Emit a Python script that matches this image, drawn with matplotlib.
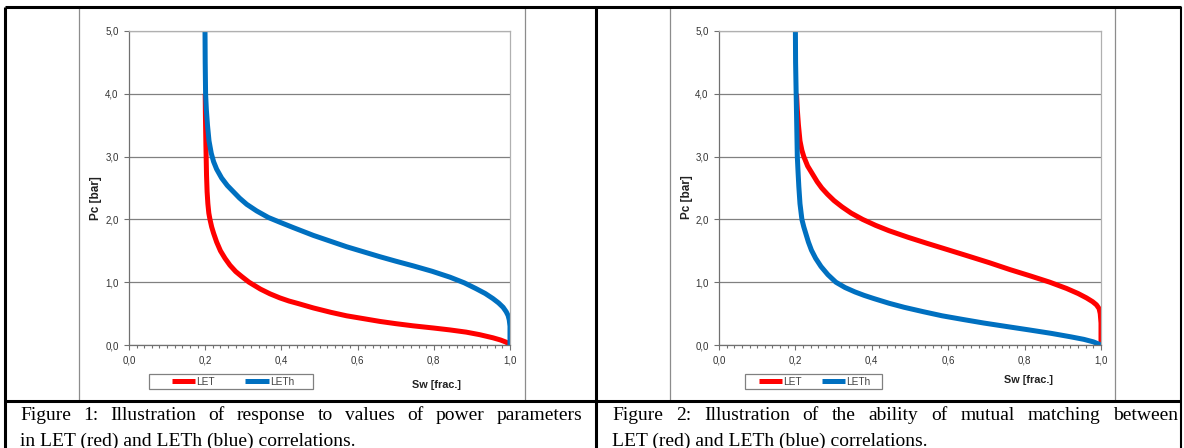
import matplotlib
matplotlib.use("Agg")
import matplotlib.pyplot as plt
from matplotlib.patches import Rectangle
from matplotlib.ticker import MultipleLocator, FuncFormatter

W, H = 1184, 448

# Figure 1: LET (red) / LETh (blue)
sw_let_1 = [0.200, 0.2005, 0.201, 0.2018, 0.2025, 0.2035, 0.205, 0.207, 0.2095, 0.2125, 0.217,
            0.222, 0.230, 0.240, 0.252, 0.265, 0.280, 0.296, 0.315, 0.345, 0.370, 0.396,
            0.420, 0.444, 0.484, 0.530, 0.571, 0.620, 0.659, 0.700, 0.746, 0.800, 0.8425,
            0.885, 0.920, 0.955, 0.975, 0.990, 1.000]
pc_let_1 = [4.00, 3.70, 3.50, 3.20, 3.00, 2.70, 2.44, 2.25, 2.10, 2.00, 1.88,
            1.78, 1.64, 1.50, 1.38, 1.27, 1.17, 1.09, 1.00, 0.89, 0.815, 0.75,
            0.70, 0.66, 0.59, 0.52, 0.465, 0.415, 0.375, 0.34, 0.305, 0.27, 0.24,
            0.205, 0.165, 0.115, 0.08, 0.045, 0.0]
sw_leth_1 = [0.1995, 0.200, 0.201, 0.203, 0.206, 0.210, 0.216, 0.222, 0.230, 0.243, 0.258,
             0.274, 0.290, 0.309, 0.335, 0.366, 0.396, 0.431, 0.484, 0.530, 0.571, 0.615,
             0.659, 0.700, 0.746, 0.795, 0.8425, 0.880, 0.910, 0.935, 0.955, 0.970, 0.982,
             0.990, 0.995, 0.998, 1.000, 1.000]
pc_leth_1 = [5.00, 4.50, 4.00, 3.75, 3.50, 3.25, 3.05, 2.92, 2.80, 2.66, 2.54,
             2.44, 2.34, 2.24, 2.135, 2.03, 1.955, 1.87, 1.745, 1.65, 1.565, 1.485,
             1.405, 1.335, 1.26, 1.175, 1.08, 0.99, 0.90, 0.82, 0.74, 0.67, 0.60,
             0.53, 0.47, 0.40, 0.30, 0.0]

# Figure 2
sw_let_2 = [0.203, 0.205, 0.208, 0.212, 0.217, 0.222, 0.232, 0.247, 0.257, 0.269, 0.284,
            0.301, 0.322, 0.346, 0.376, 0.410, 0.445, 0.495, 0.544, 0.600, 0.653, 0.708,
            0.762, 0.815, 0.866, 0.910, 0.940, 0.962, 0.978, 0.988, 0.995, 0.998, 1.000, 1.000]
pc_let_2 = [4.00, 3.75, 3.50, 3.25, 3.10, 3.00, 2.85, 2.70, 2.60, 2.50, 2.40,
            2.30, 2.20, 2.10, 2.00, 1.905, 1.82, 1.715, 1.62, 1.515, 1.415, 1.31,
            1.20, 1.10, 1.00, 0.90, 0.82, 0.75, 0.69, 0.64, 0.58, 0.50, 0.35, 0.0]
sw_leth_2 = [0.200, 0.2005, 0.202, 0.2035, 0.205, 0.207, 0.209, 0.212, 0.217, 0.222, 0.227,
             0.234, 0.242, 0.253, 0.267, 0.285, 0.306, 0.330, 0.356, 0.380, 0.405, 0.445,
             0.485, 0.535, 0.584, 0.640, 0.693, 0.750, 0.812, 0.870, 0.921, 0.955, 0.980, 1.000]
pc_leth_2 = [5.00, 4.50, 4.00, 3.50, 3.00, 2.75, 2.52, 2.25, 2.00, 1.88, 1.78,
             1.64, 1.51, 1.38, 1.25, 1.12, 1.00, 0.915, 0.845, 0.79, 0.74, 0.665,
             0.60, 0.53, 0.465, 0.405, 0.35, 0.297, 0.24, 0.185, 0.13, 0.09, 0.05, 0.0]

captions = [
    ("Figure 1: Illustration of response to values of power parameters",
     "in LET (red) and LETh (blue) correlations."),
    ("Figure 2: Illustration of the ability of mutual matching between",
     "LET (red) and LETh (blue) correlations."),
]

RED = "#ff0000"
BLUE = "#0070c0"
GRID = "#808080"


def box(x0, y0, x1, y1):
    # pixel box -> figure fraction
    return [x0 / W, 1 - y1 / H, (x1 - x0) / W, (y1 - y0) / H]


fig = plt.figure(figsize=(W / 100, H / 100), dpi=100)
bg = fig.add_axes([0, 0, 1, 1], zorder=-1)
bg.set_xlim(0, W)
bg.set_ylim(H, 0)
bg.axis("off")

# table frame
for xs, ys, lw in [((5, 1181), (7, 7), 2.2), ((5, 5), (7, 448), 2.2), ((596, 596), (7, 448), 2.2),
                   ((1181, 1181), (7, 448), 1.5), ((5, 1181), (401, 401), 2.2)]:
    bg.plot(xs, ys, color="black", lw=lw, solid_capstyle="butt")

# chart areas
bg.add_patch(Rectangle((78.5, 7), 446, 394, fill=False, ec="#8c8c8c", lw=0.9))
bg.add_patch(Rectangle((669.5, 7), 445, 394, fill=False, ec="#8c8c8c", lw=0.9))

panels = [
    dict(plot=(129, 31, 510, 345), let=(sw_let_1, pc_let_1), leth=(sw_leth_1, pc_leth_1),
         ylab=(96, 198), xlab=(436, 385), legbox=(149, 374, 313, 389), legc=(233, 381.5),
         colsp=3.0, cap=(20, 582)),
    dict(plot=(719, 31, 1101, 345), let=(sw_let_2, pc_let_2), leth=(sw_leth_2, pc_leth_2),
         ylab=(687, 197), xlab=(1028, 380), legbox=(744.5, 374, 882, 389), legc=(814.5, 381.5),
         colsp=2.0, cap=(612, 1178)),
]

comma = FuncFormatter(lambda v, p: f"{v:.1f}".replace(".", ","))
renderer = fig.canvas.get_renderer()

for i, p in enumerate(panels):
    ax = fig.add_axes(box(*p["plot"]))
    ax.plot(*p["let"], color=RED, lw=3.6, label="LET", solid_capstyle="butt", solid_joinstyle="round")
    ax.plot(*p["leth"], color=BLUE, lw=3.6, label="LETh", solid_capstyle="butt", solid_joinstyle="round")
    ax.set_xlim(0, 1)
    ax.set_ylim(0, 5)
    ax.xaxis.set_major_locator(MultipleLocator(0.2))
    ax.xaxis.set_minor_locator(MultipleLocator(0.02))
    ax.yaxis.set_major_locator(MultipleLocator(1))
    ax.xaxis.set_major_formatter(comma)
    ax.yaxis.set_major_formatter(comma)
    ax.grid(axis="y", color=GRID, lw=0.9)
    ax.set_axisbelow(True)
    for s in ("top", "right"):
        ax.spines[s].set_color("#b0b0b0")
        ax.spines[s].set_linewidth(0.9)
    for s in ("left", "bottom"):
        ax.spines[s].set_color("#707070")
        ax.spines[s].set_linewidth(0.9)
    ax.tick_params(which="both", direction="out", color="#707070", width=0.8,
                   labelsize=7, labelcolor="#333333")
    ax.tick_params(which="major", length=3.5, pad=4)
    ax.tick_params(which="minor", length=2.5)
    for lab in ax.get_xticklabels() + ax.get_yticklabels():
        lab.set_family("Liberation Sans")

    bg.text(*p["ylab"], "Pc [bar]", rotation=90, ha="center", va="center",
            fontsize=8.5, fontweight="bold", family="Liberation Sans", color="#222222")
    bg.text(*p["xlab"], "Sw [frac.]", ha="center", va="center",
            fontsize=7.8, fontweight="bold", family="Liberation Sans", color="#222222")

    # legend: frame drawn separately so its size matches the picture
    lx0, ly0, lx1, ly1 = p["legbox"]
    bg.add_patch(Rectangle((lx0, ly0), lx1 - lx0, ly1 - ly0, fill=False, ec="#808080", lw=0.9))
    cx, cy = p["legc"]
    leg = ax.legend(loc="center", bbox_to_anchor=(cx / W, 1 - cy / H), bbox_transform=fig.transFigure,
                    ncol=2, frameon=False, prop={"family": "Liberation Sans", "size": 7.3},
                    handlelength=2.3, handletextpad=0.1, columnspacing=p["colsp"],
                    borderpad=0.0, borderaxespad=0)
    for t in leg.get_texts():
        t.set_color("#444444")

    # caption, first line justified
    x0, x1 = p["cap"]
    first, second = captions[i]
    words = first.split()
    texts = [bg.text(0, 415, w, va="center", fontsize=14, family="Liberation Serif") for w in words]
    widths = [t.get_window_extent(renderer).width for t in texts]
    gap = (x1 - x0 - sum(widths)) / (len(words) - 1)
    x = x0
    for t, w in zip(texts, widths):
        t.set_x(x)
        x += w + gap
    bg.text(x0, 441, second, va="center", fontsize=14, family="Liberation Serif")

fig.savefig("out.png", dpi=100)
